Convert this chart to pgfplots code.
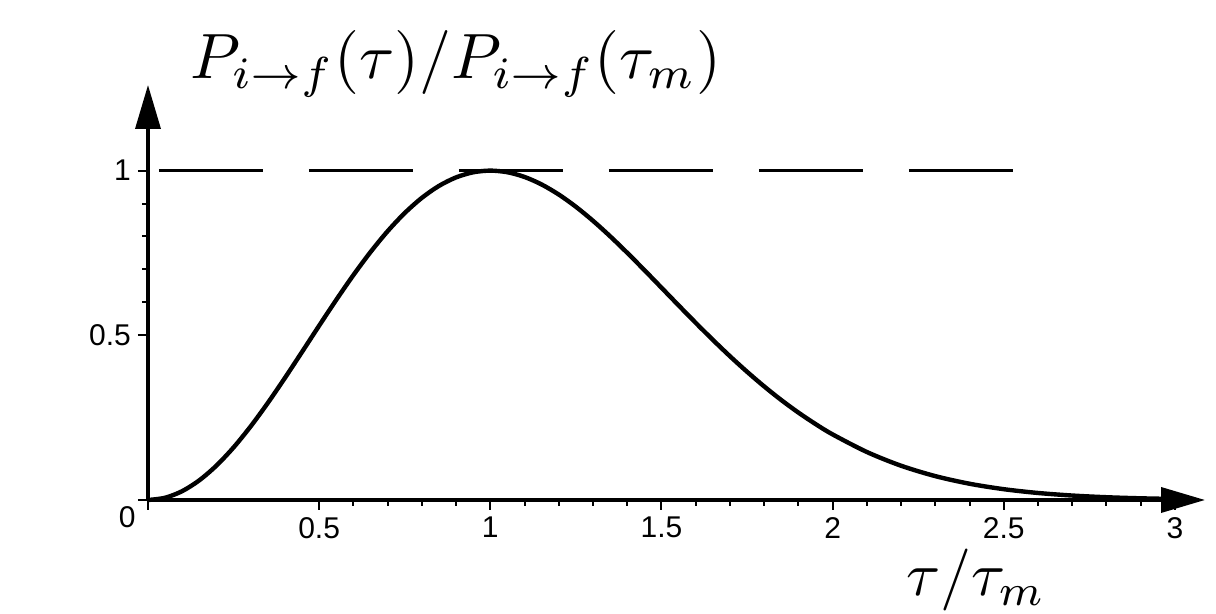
\documentclass[border=0pt]{standalone}
\usepackage{pgfplots}
\pgfplotsset{compat=1.18}
\usepackage{fontspec}
\setmainfont{Liberation Sans}
\usetikzlibrary{arrows.meta}
\begin{document}
\begin{tikzpicture}
\path[use as bounding box] (0,0) rectangle (608pt,307pt);
\begin{axis}[
  at={(74pt,57pt)}, anchor=south west,
  scale only axis, width=528.5pt, height=207.5pt,
  xmin=0, xmax=3.088, ymin=0, ymax=1.26,
  axis lines=left,
  axis line style={line width=1.8pt, -{Triangle[length=22pt,width=12.5pt]}},
  xtick={0.5,1,1.5,2,2.5,3},
  xticklabels={0.5,1,1.5,2,2.5,3},
  ytick={0.5,1},
  yticklabels={0.5,1},
  extra x ticks={0}, extra x tick labels={},
  extra y ticks={0}, extra y tick labels={},
  minor x tick num=4, minor y tick num=4,
  tick align=outside,
  major tick length=5pt, minor tick length=3pt,
  tick style={black, line width=1pt},
  tick label style={font=\fontsize{15}{18}\selectfont},
  /pgf/number format/assume math mode=true,
  clip=false,
]
\addplot[black, line width=2.2pt, smooth] coordinates {
(0,0)(0.05,0.00678)(0.1,0.02691)(0.15,0.05980)(0.2,0.10447)(0.25,0.15960)
(0.3,0.22359)(0.35,0.29459)(0.4,0.37062)(0.45,0.44955)(0.5,0.52925)
(0.55,0.60763)(0.6,0.68274)(0.65,0.75268)(0.7,0.81600)(0.75,0.87120)
(0.8,0.91731)(0.85,0.95355)(0.9,0.97944)(0.95,0.99491)(1.0,1.0)
(1.05,0.99509)(1.1,0.98080)(1.15,0.95790)(1.2,0.92742)(1.25,0.89028)
(1.3,0.84767)(1.35,0.80070)(1.4,0.75046)(1.45,0.69815)(1.5,0.64464)
(1.55,0.59099)(1.6,0.53796)(1.65,0.48632)(1.7,0.43660)(1.75,0.38940)
(1.8,0.34494)(1.85,0.30351)(1.9,0.26544)(1.95,0.23070)(2.0,0.19915)
(2.1,0.14575)(2.2,0.10403)(2.3,0.07250)(2.4,0.04934)(2.5,0.03280)
(2.6,0.02130)(2.7,0.01352)(2.8,0.00839)(2.9,0.00509)(3.0,0.00302)
};
\addplot[black, line width=1.5pt, dash pattern=on 52pt off 23pt] coordinates {(0.032,1)(2.56,1)};
\end{axis}
\node[anchor=north east, font=\fontsize{15}{18}\selectfont, inner sep=0pt] at (68pt,54pt) {0};
\node[scale=3.2, transform shape] at (228pt,275pt) {$P_{i\to f}(\tau)/P_{i\to f}(\tau_m)$};
\node[scale=3.1, transform shape, anchor=base, inner sep=0pt] at (488pt,9pt) {$\tau/\tau_m$};
\end{tikzpicture}
\end{document}
